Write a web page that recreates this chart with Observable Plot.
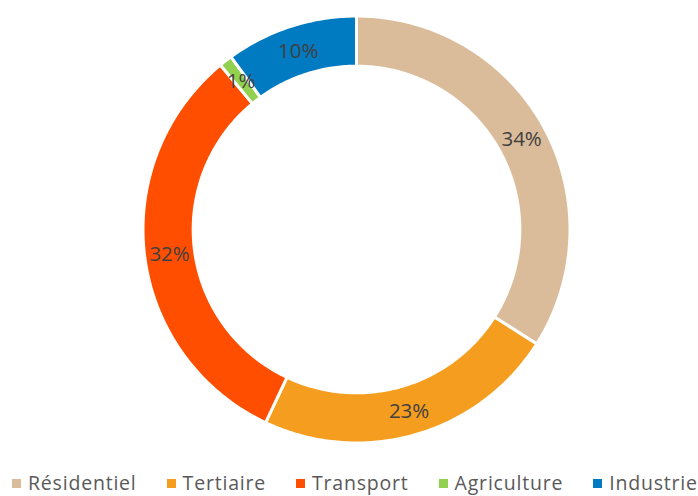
<!DOCTYPE html>
<html>
<head>
<meta charset="utf-8">
<script src="https://cdn.jsdelivr.net/npm/d3@7"></script>
<script src="https://cdn.jsdelivr.net/npm/@observablehq/plot@0.6"></script>
<style>
  html, body { margin: 0; padding: 0; background: #fff; overflow: hidden; width: 698px; height: 496px; }
  #chart svg { display: block; }
  .legend { display: flex; flex-wrap: nowrap; white-space: nowrap; padding-left: 12px; margin-top: 9px;
            font-family: "Open Sans", sans-serif; font-size: 19.5px; letter-spacing: 0.8px; color: #595959; line-height: 24px; }
  .legend .item { display: flex; align-items: center; margin-right: 30px; flex: none; }
  .legend .sw { width: 9px; height: 9px; margin-right: 7px; flex: none; }
</style>
</head>
<body>
<div id="chart"></div>
<script>
const categories = ["Résidentiel", "Tertiaire", "Transport", "Agriculture", "Industrie"];
const shares = [34, 23, 32, 1, 10];
const labels = ["34%", "23%", "32%", "1%", "10%"];
const colors = ["#DBBC9A", "#F59D1E", "#FF4E00", "#92D050", "#007AC0"];

const W = 698, H = 462;
const cx = 356, cy = 229, R = 213.5;
const inner = 0.765;

const pie = d3.pie().sort(null).value(d => d.v)(categories.map((c, i) => ({c, v: shares[i], l: labels[i]})));

// slice outlines in unit-circle coordinates (angle clockwise from top)
const pts = [];
for (const s of pie) {
  const n = Math.max(4, Math.ceil((s.endAngle - s.startAngle) * 80));
  for (let k = 0; k <= n; k++) {
    const a = s.startAngle + (s.endAngle - s.startAngle) * k / n;
    pts.push({cat: s.data.c, x: Math.sin(a), y: Math.cos(a)});
  }
  for (let k = n; k >= 0; k--) {
    const a = s.startAngle + (s.endAngle - s.startAngle) * k / n;
    pts.push({cat: s.data.c, x: inner * Math.sin(a), y: inner * Math.cos(a)});
  }
}
const mid = (1 + inner) / 2;
const lab = pie.map(s => {
  const a = (s.startAngle + s.endAngle) / 2;
  return {text: s.data.l, x: mid * Math.sin(a), y: mid * Math.cos(a)};
});

const chart = Plot.plot({
  width: W, height: H,
  margin: 0,
  x: {domain: [-1, 1], range: [cx - R, cx + R], axis: null},
  y: {domain: [-1, 1], range: [cy + R, cy - R], axis: null},
  color: {domain: categories, range: colors},
  style: {fontFamily: "'Open Sans', sans-serif", background: "white"},
  marks: [
    Plot.line(pts, {x: "x", y: "y", z: "cat", fill: "cat", stroke: "white", strokeWidth: 3, curve: "linear-closed"}),
    Plot.text(lab, {x: "x", y: "y", text: "text", fontSize: 20.5, fill: "#404040", dy: 1})
  ]
});
document.getElementById("chart").appendChild(chart);

const legend = document.createElement("div");
legend.className = "legend";
categories.forEach((c, i) => {
  const item = document.createElement("div");
  item.className = "item";
  const sw = document.createElement("span");
  sw.className = "sw";
  sw.style.background = colors[i];
  const t = document.createElement("span");
  t.textContent = c;
  item.appendChild(sw); item.appendChild(t);
  legend.appendChild(item);
});
document.body.appendChild(legend);
</script>
</body>
</html>
